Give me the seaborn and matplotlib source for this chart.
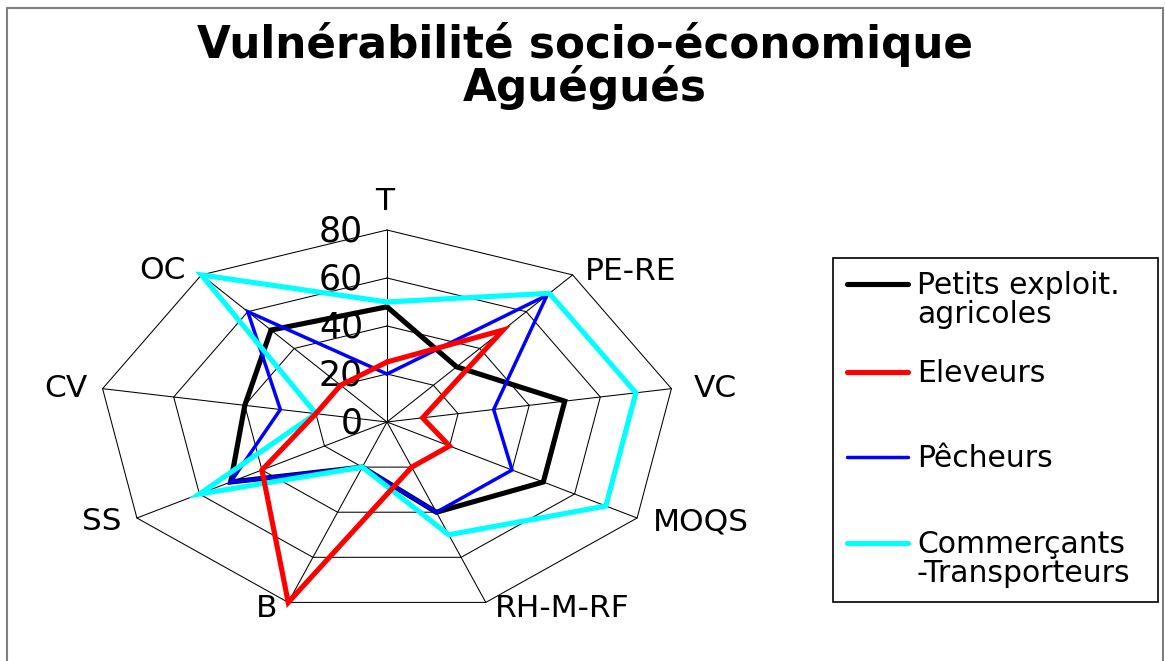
import numpy as np
import pandas as pd
import seaborn as sns
import matplotlib
matplotlib.use('Agg')
import matplotlib.pyplot as plt
from matplotlib.lines import Line2D
from matplotlib.patches import Rectangle

# axes of the radar, clockwise from the top
axes_labels = ['T', 'PE-RE', 'VC', 'MOQS', 'RH-M-RF', 'B', 'SS', 'CV', 'OC']
petits = [48, 30, 50, 50, 40, 20, 50, 40, 50]
eleveurs = [25, 50, 10, 20, 20, 80, 40, 20, 20]
pecheurs = [20, 69, 30, 40, 40, 20, 50, 30, 60]
commercants = [50, 70, 70, 70, 50, 20, 60, 20, 80]
ring_ticks = [0, 20, 40, 60, 80]
series_labels = ['Petits exploit.\nagricoles', 'Eleveurs', 'Pêcheurs',
                 'Commerçants\n-Transporteurs']
title_lines = ['Vulnérabilité socio-économique', 'Aguégués']

sns.set_style('white')
plt.rcParams['font.family'] = ['DejaVu Sans']
plt.rcParams['text.color'] = 'black'

W, H = 1165, 661
fig = plt.figure(figsize=(W / 100, H / 100), dpi=100)

def fx(px):
    return px / W

def fy(py):
    # py measured from the top of the picture
    return 1 - py / H

# centre of the radar at (387, 422) px; 3.61 px/unit across, 2.4 px/unit up
cx, cy = 387, 422
sx, sy = 3.61, 2.4
x0, x1 = -100, 100
y0, y1 = -95, 100
ax = fig.add_axes([fx(cx + x0 * sx), fy(cy - y0 * sy),
                   (x1 - x0) * sx / W, (y1 - y0) * sy / H])
ax.set_xlim(x0, x1)
ax.set_ylim(y0, y1)
ax.axis('off')

n = len(axes_labels)
theta = np.deg2rad(90 - 40 * np.arange(n))
rmax = ring_ticks[-1]

# grid: rings and spokes
for r in ring_ticks[1:]:
    xs = np.append(r * np.cos(theta), r * np.cos(theta[0]))
    ys = np.append(r * np.sin(theta), r * np.sin(theta[0]))
    ax.plot(xs, ys, color='black', lw=0.75, zorder=1)
for t in theta:
    ax.plot([0, rmax * np.cos(t)], [0, rmax * np.sin(t)], color='black', lw=0.75, zorder=1)

# ring values along the T axis
for r in ring_ticks:
    ax.annotate(str(r), xy=(0, r), xytext=(-24, -12), textcoords='offset pixels',
                ha='right', va='baseline', fontsize=25)

# axis names
label_off = [(-2, 20), (12, -5), (22, -8), (16, -12), (9, -15),
             (-11, -15), (-15, -12), (-15, -8), (-16, -4)]
for lab, t, (dx, dy) in zip(axes_labels, theta, label_off):
    ha = 'center' if dx == -2 else ('left' if dx > 0 else 'right')
    ax.annotate(lab, xy=(rmax * np.cos(t), rmax * np.sin(t)), xytext=(dx, dy),
                textcoords='offset pixels', ha=ha, va='baseline', fontsize=22.5)

# series
series = [petits, eleveurs, pecheurs, commercants]
colors = ['#000000', '#ff0000', '#0000ff', '#00ffff']
widths = [3.7, 3.7, 2.5, 3.7]
zorders = [3, 6, 4, 5]
for vals, col, lw, z in zip(series, colors, widths, zorders):
    v = np.array(vals + vals[:1], dtype=float)
    tt = np.append(theta, theta[0])
    df = pd.DataFrame({'x': v * np.cos(tt), 'y': v * np.sin(tt)})
    sns.lineplot(data=df, x='x', y='y', sort=False, estimator=None, ax=ax,
                 color=col, linewidth=lw, zorder=z, solid_joinstyle='miter',
                 legend=False)
ax.set_xlim(x0, x1)
ax.set_ylim(y0, y1)

# title
fig.text(fx(585), fy(58), title_lines[0], ha='center', va='baseline',
         fontsize=31.5, fontweight='bold')
fig.text(fx(585), fy(101), title_lines[1], ha='center', va='baseline',
         fontsize=31.5, fontweight='bold')

# legend box
fig.add_artist(Rectangle((fx(833), fy(602)), fx(1158 - 833), (602 - 258) / H,
                         transform=fig.transFigure, fill=False,
                         edgecolor='black', lw=1.2))
row_y = [284, 372, 457, 543]
pitch = 29
for lab, col, lw, yy in zip(series_labels, colors, widths, row_y):
    fig.add_artist(Line2D([fx(847), fx(908)], [fy(yy), fy(yy)],
                          transform=fig.transFigure, color=col, lw=lw))
    for i, line in enumerate(lab.split('\n')):
        fig.text(fx(917), fy(yy + i * pitch + 10), line, ha='left',
                 va='baseline', fontsize=21.5)

# outer frame of the chart area
for xs, ys in [([7, 7], [8, 661]), ([7, 1163], [8, 8]), ([1163, 1163], [8, 661])]:
    fig.add_artist(Line2D([fx(x) for x in xs], [fy(y) for y in ys],
                          transform=fig.transFigure, color='#808080', lw=1.5))

fig.savefig('out.png', dpi=100)
